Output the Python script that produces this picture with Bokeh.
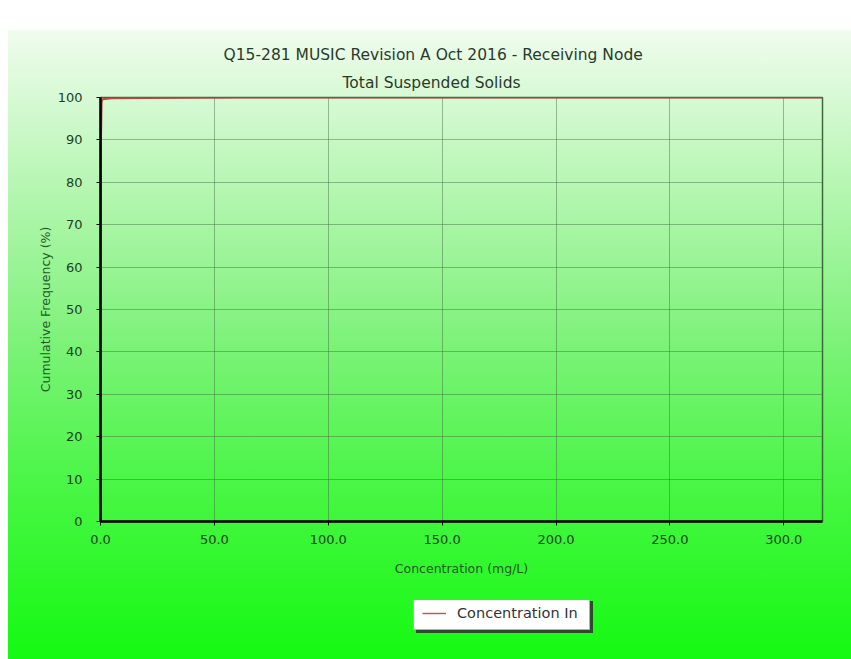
from bokeh.plotting import figure
from bokeh.layouts import column
from bokeh.models import Range1d, Title, Legend, LegendItem, FixedTicker, PrintfTickFormatter
from bokeh.embed import file_html
from bokeh.resources import INLINE

# ---- data ----
concentration = [0.0, 0.2, 0.5, 1.0, 5.0, 20.0, 60.0, 317.0]
cum_freq = [0.0, 90.0, 99.0, 99.6, 99.8, 99.9, 100.0, 100.0]
x_ticks = [0, 50, 100, 150, 200, 250, 300]
y_ticks = [0, 10, 20, 30, 40, 50, 60, 70, 80, 90, 100]
title_line1 = "Q15-281 MUSIC Revision A Oct 2016 - Receiving Node"
title_line2 = "Total Suspended Solids"
x_label = "Concentration (mg/L)"
y_label = "Cumulative Frequency (%)"
series_name = "Concentration In"

FONT = "DejaVu Sans"
TXT = "#1d3f1d"
LINE_COLOR = "#b84a40"

p = figure(width=843, height=570, output_backend="svg", toolbar_location=None,
           x_range=Range1d(0, 317), y_range=Range1d(0, 100), title=None,
           min_border_left=92, min_border_right=29, min_border_top=67, min_border_bottom=79)
p.border_fill_color = None
p.background_fill_color = None
p.outline_line_color = "#3d6b3d"
p.outline_line_width = 1.5

r = p.line(concentration, cum_freq, line_color=LINE_COLOR, line_width=2)

# titles (later added sits farther from the frame)
t2 = Title(text=title_line2, align="left", offset=242, text_font=FONT, text_font_size="15.5px",
           text_font_style="normal", text_color="#2a3a2a", standoff=11)
p.add_layout(t2, "above")
t1 = Title(text=title_line1, align="left", offset=123, text_font=FONT, text_font_size="15.5px",
           text_font_style="normal", text_color="#2a3a2a", standoff=5)
p.add_layout(t1, "above")

for ax in (p.xaxis[0], p.yaxis[0]):
    ax.axis_line_color = "black"
    ax.axis_line_width = 2.5
    ax.major_tick_line_color = "black"
    ax.major_tick_out = 4
    ax.major_tick_in = 0
    ax.minor_tick_line_color = None
    ax.major_label_text_font = FONT
    ax.major_label_text_font_size = "13px"
    ax.major_label_text_color = TXT
    ax.axis_label_text_font = FONT
    ax.axis_label_text_font_size = "12.5px"
    ax.axis_label_text_font_style = "normal"
    ax.axis_label_text_color = "#1f5a1f"

p.xaxis[0].ticker = FixedTicker(ticks=x_ticks)
p.xaxis[0].formatter = PrintfTickFormatter(format="%.1f")
p.xaxis[0].axis_label = x_label
p.xaxis[0].major_label_standoff = 9
p.xaxis[0].axis_label_standoff = 14

p.yaxis[0].ticker = FixedTicker(ticks=y_ticks)
p.yaxis[0].axis_label = y_label
p.yaxis[0].major_label_standoff = 14
p.yaxis[0].axis_label_standoff = 2

p.xgrid.ticker = FixedTicker(ticks=x_ticks)
p.ygrid.ticker = FixedTicker(ticks=y_ticks)
for g in (p.xgrid[0], p.ygrid[0]):
    g.grid_line_color = "#3f6a3f"
    g.grid_line_alpha = 0.45
    g.grid_line_width = 1

# ---- legend strip (second figure, same series drawn off-view so only its legend shows) ----
lg = figure(width=843, height=59, output_backend="svg", toolbar_location=None,
            x_range=Range1d(1000, 2000), y_range=Range1d(1000, 2000), title=None,
            x_axis_type=None, y_axis_type=None,
            min_border_left=0, min_border_right=0, min_border_top=0, min_border_bottom=0)
lg.border_fill_color = None
lg.background_fill_color = None
lg.outline_line_color = None
lg.xgrid.visible = False
lg.ygrid.visible = False
r2 = lg.line(concentration, cum_freq, line_color="#c05a55", line_width=1.5)

def make_legend(loc, bg, border, text_color, text_size, text_alpha):
    return Legend(items=[LegendItem(label=series_name, renderers=[r2])], location=loc,
                  background_fill_color=bg, background_fill_alpha=1.0,
                  border_line_color=border, border_line_width=1,
                  label_text_font=FONT, label_text_font_size=text_size, label_text_color=text_color,
                  label_text_alpha=text_alpha,
                  glyph_width=24, glyph_height=14, label_standoff=11, padding=8, margin=0,
                  label_height=14, label_width=124)

shadow = make_legend((316, 26), "#2c4a2c", "#2c4a2c", "#2c4a2c", "1px", 0.0)
front = make_legend((313, 29), "white", "#666666", "#333333", "14.5px", 1.0)
lg.add_layout(shadow)
lg.add_layout(front)

layout = column(p, lg, spacing=0)
layout.margin = (30, 0, 0, 8)
layout.styles = {"background": "linear-gradient(to bottom, #f0fcee 0%, #b6f6b2 25%, #7cf278 50%, #44f640 75%, #14fa12 100%)"}

open("out.html", "w").write(file_html(layout, INLINE))
